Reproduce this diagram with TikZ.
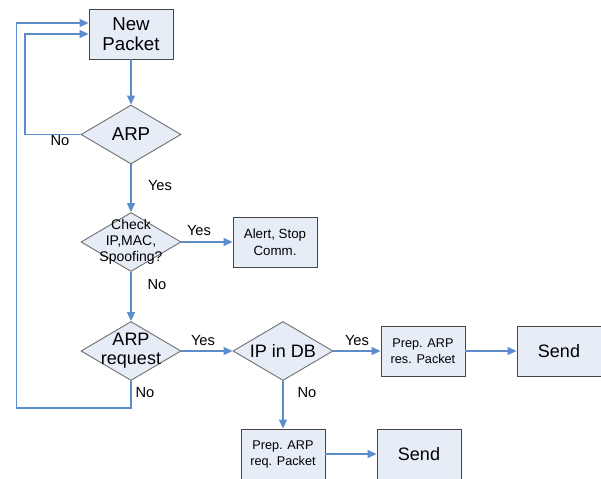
\documentclass[tikz,border=0pt]{standalone}
\usepackage{fontspec}
\setmainfont{Liberation Sans}
\usetikzlibrary{shapes.geometric,arrows.meta}
\definecolor{fillc}{RGB}{230,237,247}
\definecolor{linec}{RGB}{92,140,204}
\definecolor{boxc}{RGB}{70,70,70}
\definecolor{diac}{RGB}{115,115,115}
\begin{document}
\begin{tikzpicture}[x=0.75pt,y=-0.75pt,
 box/.style={draw=boxc,fill=fillc,line width=0.7pt,minimum width=63pt,minimum height=37.5pt,inner sep=0pt,align=center},
 dia/.style={diamond,draw=diac,fill=fillc,line width=0.7pt,minimum width=75pt,minimum height=44.25pt,inner sep=0pt},
 arr/.style={draw=linec,line width=0.8pt,-{Triangle[length=6.75pt,width=6pt]}},
 lab/.style={font=\fontsize{11}{13}\selectfont,inner sep=0pt},
 big/.style={font=\fontsize{14}{15}\selectfont},
 small/.style={font=\fontsize{9.5}{12}\selectfont},
 dtext/.style={align=center,inner sep=0pt}
]
\useasboundingbox (0,0) rectangle (601,479);
\fill[white] (0,0) rectangle (601,479);

% nodes
\node[box,big] (np) at (131,34) {New\\Packet};
\node[dia,label={[dtext,big]center:ARP}] (arp) at (131,134.5) {};
\node[dia,label={[dtext,font=\fontsize{10.5}{12}\selectfont]center:Check\\IP,MAC,\\Spoofing?}] (chk) at (131,242) {};
\node[box,font=\fontsize{10}{12.5}\selectfont] (alert) at (275,242) {Alert, Stop\\Comm.};
\node[dia,label={[dtext,font=\fontsize{13.5}{14}\selectfont]center:ARP\\request}] (req) at (131,351) {};
\node[dia,label={[dtext,font=\fontsize{13.5}{15}\selectfont]center:IP in DB}] (db) at (283,351) {};
\node[box,small] (pres) at (423,351) {Prep. ARP\\res. Packet};
\node[box,font=\fontsize{13.5}{15}\selectfont] (send1) at (559,351) {Send};
\node[box,small] (preq) at (283,454) {Prep. ARP\\req. Packet};
\node[box,font=\fontsize{13.5}{15}\selectfont] (send2) at (419,454) {Send};

\coordinate (l1) at (25,134.5);
\coordinate (l2) at (16.7,408);

% connectors
\draw[arr] (np) -- (arp);
\draw[arr] (arp.west) -- (l1) |- (np.west);
\draw[arr] (arp) -- (chk);
\draw[arr] (chk) -- (alert);
\draw[arr] (chk) -- (req);
\draw[arr] (req) -- (db);
\draw[arr] (db) -- (pres);
\draw[arr] (pres) -- (send1);
\draw[arr] (db) -- (preq);
\draw[arr] (preq) -- (send2);
\draw[arr] (req.south) |- (l2) |- ([yshift=8.25pt]np.west);

% labels
\node[lab] (n1) at (60,141) {No};
\node[lab] (y1) at (160,186) {Yes};
\node[lab] (y2) at (199,231) {Yes};
\node[lab] (n2) at (157,285) {No};
\node[lab] (y3) at (203,341) {Yes};
\node[lab] (n3) at (145,393) {No};
\node[lab] (y4) at (357,340.5) {Yes};
\node[lab] (n4) at (307,392.5) {No};
\end{tikzpicture}
\end{document}
